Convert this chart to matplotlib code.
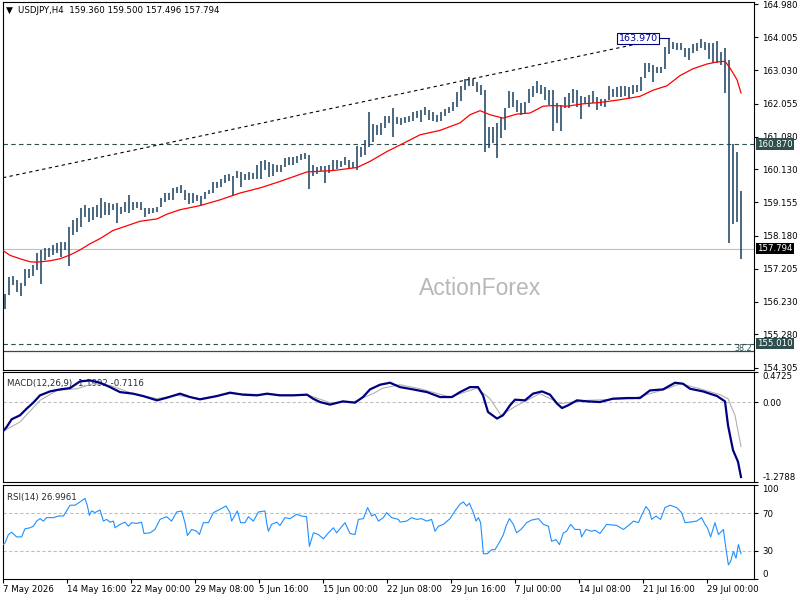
import numpy as np
import matplotlib
matplotlib.use("Agg")
import matplotlib.pyplot as plt
import matplotlib.transforms as mtransforms

plt.rcParams['font.family'] = ['DejaVu Sans']

symbol = "USDJPY,H4"
last_ohlc = [159.360, 159.500, 157.496, 157.794]

# one drawn bar for every two H4 bars, high / low
highs = [156.47, 156.97, 156.99, 156.88, 156.79, 157.20, 157.20, 157.32, 157.67, 157.76,
         157.82, 157.82, 157.91, 157.97, 157.99, 157.99, 158.44, 158.64, 158.70, 159.00,
         159.08, 159.00, 159.03, 159.08, 159.29, 159.17, 159.14, 159.11, 159.14, 159.03,
         159.17, 159.38, 159.17, 159.17, 159.17, 159.00, 159.00, 159.00, 159.03, 159.29,
         159.44, 159.44, 159.58, 159.61, 159.67, 159.53, 159.44, 159.44, 159.38, 159.35,
         159.47, 159.53, 159.76, 159.76, 159.85, 159.97, 160.00, 159.94, 160.08, 160.06,
         160.00, 160.06, 160.03, 160.26, 160.38, 160.41, 160.35, 160.29, 160.26, 160.26,
         160.47, 160.50, 160.50, 160.53, 160.58, 160.61, 160.55, 160.26, 160.20, 160.23,
         160.23, 160.26, 160.41, 160.41, 160.38, 160.50, 160.41, 160.35, 160.82, 160.79,
         161.00, 161.82, 161.47, 161.44, 161.50, 161.70, 161.70, 161.94, 161.67, 161.64,
         161.67, 161.70, 161.82, 161.85, 161.88, 161.97, 161.88, 161.82, 161.73, 161.82,
         161.91, 161.97, 162.11, 162.41, 162.56, 162.79, 162.85, 162.79, 162.70, 162.61,
         162.47, 161.38, 161.38, 161.50, 161.64, 161.94, 162.44, 162.41, 162.17, 162.06,
         162.11, 162.50, 162.56, 162.73, 162.59, 162.53, 162.47, 162.47, 162.08, 162.03,
         162.26, 162.38, 162.50, 162.47, 162.29, 162.26, 162.32, 162.44, 162.26, 162.20,
         162.20, 162.56, 162.50, 162.53, 162.56, 162.56, 162.53, 162.61, 162.59, 162.85,
         163.26, 163.26, 163.20, 163.14, 163.14, 163.73, 163.97, 163.88, 163.85, 163.85,
         163.70, 163.70, 163.82, 163.85, 163.94, 163.88, 163.85, 163.85, 163.91, 163.58,
         163.70, 163.35, 160.88, 160.64, 159.50]
lows = [156.03, 156.44, 156.73, 156.53, 156.41, 156.70, 156.94, 156.99, 157.17, 156.76,
        157.47, 157.56, 157.61, 157.67, 157.56, 157.76, 157.29, 158.20, 158.29, 158.44,
        158.73, 158.59, 158.64, 158.73, 158.70, 158.79, 158.79, 158.94, 158.56, 158.82,
        158.88, 158.85, 158.94, 159.00, 158.94, 158.73, 158.82, 158.85, 158.88, 159.03,
        159.17, 159.23, 159.23, 159.44, 159.44, 159.23, 159.11, 159.14, 159.20, 159.08,
        159.26, 159.41, 159.44, 159.58, 159.61, 159.73, 159.79, 159.35, 159.88, 159.61,
        159.82, 159.82, 159.85, 159.85, 159.85, 160.11, 159.91, 159.94, 160.06, 160.06,
        160.20, 160.26, 160.26, 160.32, 160.41, 160.44, 159.56, 159.94, 160.00, 160.08,
        159.73, 160.03, 160.08, 160.14, 160.20, 160.26, 160.17, 160.17, 160.11, 160.50,
        160.55, 160.79, 160.94, 161.14, 161.14, 161.35, 161.50, 161.08, 161.47, 161.44,
        161.50, 161.53, 161.56, 161.64, 161.53, 161.73, 161.58, 161.56, 161.53, 161.56,
        161.70, 161.79, 161.85, 161.97, 162.14, 162.47, 162.56, 162.56, 162.41, 162.32,
        160.64, 160.76, 160.91, 160.47, 161.06, 161.29, 161.94, 161.97, 161.82, 161.73,
        161.79, 162.06, 162.26, 162.38, 162.35, 162.17, 162.03, 161.26, 161.50, 161.26,
        161.94, 161.94, 162.08, 161.97, 161.61, 162.08, 161.97, 162.08, 161.88, 162.00,
        161.97, 162.17, 162.26, 162.26, 162.26, 162.29, 162.20, 162.35, 162.41, 162.44,
        162.82, 162.99, 162.70, 162.97, 162.97, 163.08, 163.50, 163.67, 163.64, 163.64,
        163.44, 163.35, 163.55, 163.61, 163.70, 163.64, 163.38, 163.26, 163.26, 163.20,
        162.38, 157.97, 158.53, 158.59, 157.496]

# moving average (red), H4 bar number / price
ma_t = [0, 3.5, 8.5, 13.5, 17, 23.5, 28.5, 33.5, 38.5, 43.5, 48.5, 55, 62, 68.5, 77, 82,
        88.5, 98.5, 108.5, 118.5, 128.5, 138.5, 152, 165, 177, 183.5, 192, 198.5, 208.5,
        218.5, 228.5, 233.5, 238.5, 243.5, 250, 257, 263.5, 270, 275, 282, 290, 298.5,
        308.5, 318.5, 325, 332, 338.5, 345, 352, 357, 361, 363.5, 367, 369]
ma_v = [157.74, 157.60, 157.50, 157.41, 157.40, 157.44, 157.50, 157.61, 157.76, 157.94,
        158.09, 158.33, 158.47, 158.60, 158.67, 158.81, 158.94, 159.06, 159.23, 159.43,
        159.58, 159.77, 160.05, 160.09, 160.18, 160.36, 160.65, 160.84, 161.14, 161.27,
        161.49, 161.73, 161.85, 161.73, 161.63, 161.75, 161.78, 161.98, 162.00, 161.98,
        162.05, 162.09, 162.17, 162.27, 162.45, 162.58, 162.88, 163.08, 163.22, 163.28,
        163.30, 163.10, 162.76, 162.37]

trend_t = [0, 322]
trend_p = [159.88, 163.87]
level_line = 160.870
fib_382 = 155.010
fib_base = 154.79

macd_t = [0, 1.85, 4.35, 8.5, 11.85, 15.15, 18.5, 23.5, 28.5, 33.5, 38.5, 43.5, 48.5, 53.5,
          58.5, 65, 70, 77, 82, 88.5, 93.5, 98.5, 107, 113.5, 120, 127, 132, 138.5, 145,
          152, 155, 158.5, 163.5, 170, 176, 180, 183.5, 188.5, 193.5, 198.5, 205, 212,
          218.5, 224.5, 228.5, 233.5, 237.5, 240, 242.5, 247, 250, 253.5, 256, 261, 265,
          269.5, 273.5, 277, 279.5, 282.5, 287, 292, 298.5, 305, 312, 318.5, 323.5, 330,
          336, 340, 343.5, 350, 357, 361, 362.5, 365, 367.5, 369]
macd_v = [-0.467, -0.398, -0.275, -0.212, -0.105, -0.010, 0.107, 0.170, 0.202, 0.223,
          0.330, 0.346, 0.309, 0.239, 0.159, 0.134, 0.096, 0.027, 0.070, 0.134,
          0.080, 0.043, 0.096, 0.150, 0.118, 0.107, 0.134, 0.107, 0.107, 0.118,
          0.054, 0.000, -0.041, 0.011, -0.010, 0.080, 0.202, 0.277, 0.309, 0.239,
          0.202, 0.159, 0.080, 0.080, 0.159, 0.239, 0.239, 0.107, -0.159, -0.264,
          -0.212, -0.053, 0.038, 0.027, 0.134, 0.170, 0.118, -0.025, -0.096, -0.053,
          0.027, 0.011, 0.000, 0.054, 0.064, 0.064, 0.186, 0.202, 0.309, 0.293,
          0.213, 0.170, 0.096, 0.011, -0.371, -0.769, -0.955, -1.1992]
sig_t = [1, 8.5, 18.5, 27, 37, 45, 53.5, 65, 77, 87, 98.5, 113.5, 132, 152, 163.5, 175,
         185, 190, 198.5, 208.5, 223.5, 237, 243.5, 249, 257, 268.5, 278.5, 292, 315,
         332, 338.5, 348.5, 358.5, 362.5, 366, 369]
sig_v = [-0.451, -0.318, 0.027, 0.186, 0.213, 0.293, 0.266, 0.134, 0.054, 0.107,
         0.054, 0.134, 0.118, 0.118, -0.010, 0.000, 0.134, 0.223, 0.277, 0.213,
         0.080, 0.223, 0.054, -0.212, -0.053, 0.134, -0.025, 0.027, 0.054, 0.213,
         0.293, 0.213, 0.118, 0.054, -0.212, -0.7116]

rsi_t = [0, 1, 2.7, 4.3, 6.8, 9.3, 11, 13.5, 15.2, 16.8, 18.5, 20.2, 21.8, 25.2, 27.7,
         30.2, 31.8, 33.5, 36, 38.5, 41, 42.2, 43.2, 44.3, 46, 48.5, 50.2, 51.8, 53.5,
         55.2, 56, 58.5, 61, 62.7, 64.3, 66.8, 69.3, 70.5, 73.5, 76, 78.5, 81.8, 84.3,
         86.8, 89.3, 91, 92.2, 94.3, 96.8, 98.2, 100.2, 102.7, 105.2, 108.5, 111.5,
         113.5, 114.3, 117.2, 118.8, 121, 122.7, 125.2, 127.7, 131, 131.8, 132.7, 134.3,
         136.8, 138.5, 141, 143.5, 146.8, 149.3, 151.8, 153.2, 155.2, 157.7, 160.2,
         162.7, 165.2, 166.8, 168.5, 171, 173.5, 176, 177.7, 180.2, 182.3, 184.3, 186,
         187.7, 190.2, 191.8, 194.3, 197.7, 198.5, 201.8, 204.3, 206.8, 209.3, 211.8,
         214.3, 216, 217.7, 220.2, 223.5, 226, 228.5, 230.2, 231.8, 233.2, 235.2, 236.5,
         237.7, 238.8, 240.2, 242.2, 244.3, 246, 248.5, 250.2, 251.5, 253.2, 255.2,
         256.8, 259.3, 261.8, 264.3, 267.7, 270.2, 272.7, 274.3, 276.5, 278.2, 280.2,
         281.8, 283.8, 286, 288.5, 289.3, 291.5, 294.3, 296, 298.5, 301.8, 306.8, 310.2,
         313.5, 315.2, 317.7, 319.3, 321.5, 323.2, 324.3, 326.5, 328.8, 331, 333.5,
         336.8, 339.3, 341, 343.5, 346.8, 349.3, 351, 352.2, 353.8, 356, 357.7, 360.2,
         361.5, 362.7, 363.8, 365.2, 366.5, 367.7, 369]
rsi_v = [36.6, 38.4, 47.3, 49.8, 44.8, 44.8, 53.4, 54.5, 56.2, 61.6, 64.2, 61.6, 65.3, 65.3,
         67.0, 67.0, 72.4, 78.5, 78.5, 82.0, 85.7, 77.7, 67.7, 72.4, 70.6, 73.4, 61.6,
         63.4, 60.5, 61.6, 54.5, 58.1, 60.5, 56.2, 59.9, 59.1, 60.5, 48.4, 49.1, 52.7,
         63.4, 66.3, 61.6, 71.3, 72.4, 59.9, 46.2, 52.7, 50.8, 47.3, 59.9, 59.9, 70.6,
         74.2, 77.7, 70.6, 61.6, 72.4, 59.9, 59.9, 66.3, 61.6, 71.3, 72.4, 59.9, 50.8,
         58.1, 60.5, 57.0, 65.3, 64.2, 68.8, 67.0, 66.3, 34.7, 49.1, 47.3, 42.7, 49.1,
         54.5, 49.1, 53.4, 59.9, 48.4, 47.3, 63.4, 64.2, 76.0, 67.0, 68.8, 61.6, 65.3,
         70.6, 65.3, 63.4, 60.5, 61.6, 65.3, 63.4, 64.2, 61.6, 63.4, 50.8, 56.2, 58.1,
         64.2, 72.4, 79.6, 82.0, 77.7, 80.6, 70.6, 61.6, 65.3, 59.9, 26.9, 26.9, 31.2,
         31.2, 40.1, 47.3, 56.2, 64.2, 58.1, 49.1, 53.4, 59.9, 62.7, 64.2, 58.1, 56.2,
         40.1, 41.9, 36.6, 49.1, 50.8, 58.1, 52.7, 52.7, 44.8, 52.7, 50.8, 51.9, 48.4,
         58.1, 57.0, 52.7, 58.1, 61.6, 59.9, 67.7, 77.1, 72.4, 63.4, 66.9, 63.4, 76.0,
         78.5, 76.0, 70.6, 59.9, 60.5, 61.6, 65.3, 58.1, 54.5, 44.8, 59.9, 47.3, 52.7,
         31.9, 15.0, 18.6, 29.3, 22.2, 36.6, 27.0]

price_ticks = [164.980, 164.005, 163.030, 162.055, 161.080, 160.130, 159.155, 158.180,
               157.205, 156.230, 155.280, 154.305]
macd_ticks = [0.4725, 0.0, -1.2788]
macd_tick_labels = ['0.4725', '0.00', '-1.2788']
rsi_ticks = [100, 70, 30, 0]
time_labels = ['7 May 2026', '14 May 16:00', '22 May 00:00', '29 May 08:00', '5 Jun 16:00',
               '15 Jun 00:00', '22 Jun 08:00', '29 Jun 16:00', '7 Jul 00:00',
               '14 Jul 08:00', '21 Jul 16:00', '29 Jul 00:00']

bar_color = '#17405e'
slate = '#2F4F4F'
fs = 6.2

fig = plt.figure(figsize=(8, 6), dpi=100)
ax1 = fig.add_axes([0.003125, 0.38333, 0.939375, 0.61333])
ax2 = fig.add_axes([0.003125, 0.19667, 0.939375, 0.1825])
ax3 = fig.add_axes([0.003125, 0.035, 0.939375, 0.15667])

for ax in (ax1, ax2, ax3):
    ax.set_xlim(-0.25, 375.5)
    ax.yaxis.tick_right()
    ax.tick_params(axis='y', direction='out', length=3, width=0.8, pad=3, labelsize=fs)
    for sp in ax.spines.values():
        sp.set_linewidth(0.8)
        sp.set_color('black')
ax1.set_xticks([])
ax2.set_xticks([])

# --- main price panel
bar_t = np.arange(len(highs)) * 2 + 1
ax1.set_ylim(154.232, 165.041)
ax1.set_yticks(price_ticks)
ax1.set_yticklabels(['%.3f' % p for p in price_ticks])

ax1.axhline(last_ohlc[3], color='#C0C0C0', lw=0.8, zorder=1)
ax1.axhline(level_line, color=slate, lw=0.8, ls=(0, (4, 3)), zorder=1)
ax1.axhline(fib_382, color=slate, lw=0.8, ls=(0, (4, 3)), zorder=1)
ax1.axhline(fib_base, color=slate, lw=0.9, zorder=1)
ax1.plot(trend_t, trend_p, color='black', lw=0.8, ls=(0, (3, 3)), zorder=2)

ax1.vlines(bar_t, lows, highs, color=bar_color, lw=1.1, zorder=3)
ax1.plot(ma_t, ma_v, color='red', lw=0.9, zorder=4)

hi = int(np.argmax(highs))
ax1.plot([bar_t[hi] - 5.5, bar_t[hi]], [highs[hi], highs[hi]], color='#000080', lw=0.8, zorder=5)
ax1.text(bar_t[hi] - 5.5, highs[hi], '%.3f' % highs[hi], ha='right', va='center',
         fontsize=6.8, color='#0000A0', zorder=6,
         bbox=dict(boxstyle='square,pad=0.15', fc='white', ec='#000080', lw=0.8))

ax1.text(0.998, fib_382, '38.2', transform=mtransforms.blended_transform_factory(ax1.transAxes, ax1.transData),
         ha='right', va='top', fontsize=5.8, color=slate)

ax1.text(0.636, 0.222, 'ActionForex', transform=ax1.transAxes, ha='center', va='center',
         fontsize=16.5, family='Liberation Sans', color='#b8b8b8', zorder=0)

tr = mtransforms.blended_transform_factory(ax1.transAxes, ax1.transData)
for val, fc in [(level_line, slate), (last_ohlc[3], 'black'), (fib_382, slate)]:
    ax1.text(1.0045, val, '%.3f' % val, transform=tr, ha='left', va='center', fontsize=fs,
             color='white', clip_on=False, zorder=7,
             bbox=dict(boxstyle='square,pad=0.12', fc=fc, ec='none'))

ax1.text(0.004, 0.977, '\u25BC', transform=ax1.transAxes, fontsize=6.5, va='center', ha='left')
ax1.text(0.021, 0.977, '%s  %.3f %.3f %.3f %.3f' % (symbol, *last_ohlc), transform=ax1.transAxes,
         fontsize=fs, va='center', ha='left')

# --- MACD panel
ax2.set_ylim(-1.2788, 0.4725)
ax2.axhline(0, color='#C0C0C0', lw=0.8, ls=(0, (3, 2)))
ax2.set_yticks(macd_ticks)
ax2.set_yticklabels(macd_tick_labels)
lbls = ax2.get_yticklabels()
lbls[0].set_va('top')
lbls[2].set_va('bottom')
ax2.text(0.006, 0.9, 'MACD(12,26,9) -1.1992 -0.7116', transform=ax2.transAxes, fontsize=fs,
         va='center', ha='left', color='#1e2a36', zorder=1)
ax2.plot(sig_t, sig_v, color='#B0B0B0', lw=0.8, zorder=2)
ax2.plot(macd_t, macd_v, color='#000080', lw=1.6, zorder=3)

# --- RSI panel
ax3.set_ylim(0, 100)
ax3.axhline(70, color='#C0C0C0', lw=0.8, ls=(0, (3, 2)))
ax3.axhline(30, color='#C0C0C0', lw=0.8, ls=(0, (3, 2)))
ax3.set_yticks(rsi_ticks)
ax3.set_yticklabels([str(v) for v in rsi_ticks])
lbls = ax3.get_yticklabels()
lbls[0].set_va('top')
lbls[3].set_va('bottom')
ax3.plot(rsi_t, rsi_v, color='#1E90FF', lw=0.8, zorder=3)
ax3.text(0.006, 0.87, 'RSI(14) 26.9961', transform=ax3.transAxes, fontsize=fs,
         va='center', ha='left', color='#1e2a36')

ax3.set_xticks(np.arange(len(time_labels)) * 32)
ax3.set_xticklabels(time_labels, ha='left')
ax3.tick_params(axis='x', direction='out', length=3, width=0.8, pad=1.5, labelsize=fs)

fig.savefig('out.png', dpi=100)
